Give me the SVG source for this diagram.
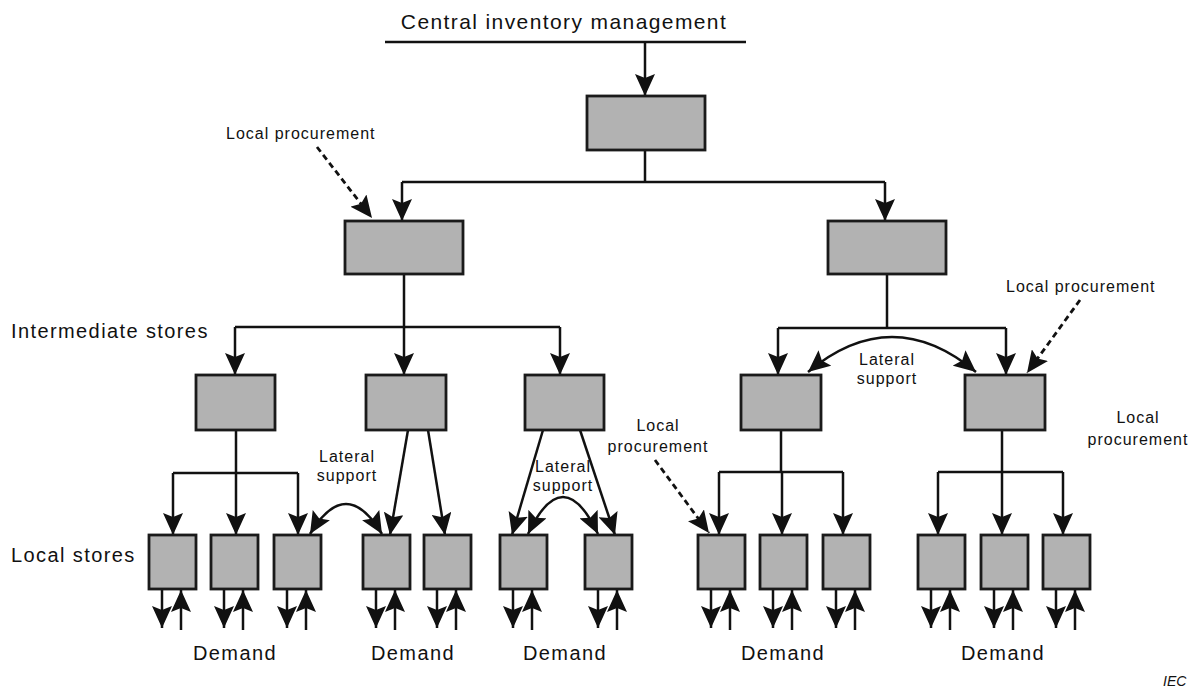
<svg xmlns="http://www.w3.org/2000/svg" width="1196" height="687" viewBox="0 0 1196 687">
  <style>
    .box { fill: #b2b2b2; stroke: #1a1a1a; stroke-width: 2.8; }
    .ln { fill: none; stroke: #111; stroke-width: 2.5; }
    .ar { fill: none; stroke: #111; stroke-width: 2.5; marker-end: url(#ah); }
    .ar2 { fill: none; stroke: #111; stroke-width: 2.5; marker-start: url(#ah); marker-end: url(#ah); }
    .dash { fill: none; stroke: #111; stroke-width: 2.8; stroke-dasharray: 6 4; marker-end: url(#ah); }
    .big { font-family: "Liberation Sans", Arial, sans-serif; font-size: 20px; letter-spacing: 1.4px; fill: #111; }
    .sm { font-family: "Liberation Sans", Arial, sans-serif; font-size: 16px; letter-spacing: 1px; fill: #111; }
    .mid { text-anchor: middle; }
  </style>
  <defs>
    <marker id="ah" viewBox="0 0 22 20" refX="22" refY="10" markerWidth="22" markerHeight="20" markerUnits="userSpaceOnUse" orient="auto-start-reverse">
      <path d="M0,0 L22,10 L0,20 L4,10 Z" fill="#111"/>
    </marker>
  </defs>

  <!-- header -->
  <text class="big mid" x="564" y="29" style="font-size:21px">Central inventory management</text>

  <!-- connectors -->
  <g id="connectors">
    <path class="ln" d="M385,42 H746"/>
    <path class="ar" d="M645,42 V96"/>
    <path class="ln" d="M645,150 V182 M402,182 H885"/>
    <path class="ar" d="M402,182 V221"/>
    <path class="ar" d="M885,182 V221"/>

    <!-- left regional store to intermediate stores -->
    <path class="ln" d="M404,274 V327 M235,327 H560"/>
    <path class="ar" d="M235,327 V375"/>
    <path class="ar" d="M404,327 V375"/>
    <path class="ar" d="M560,327 V375"/>

    <!-- right regional store to intermediate stores -->
    <path class="ln" d="M887,274 V328 M778,328 H1006"/>
    <path class="ar" d="M778,328 V375"/>
    <path class="ar" d="M1006,328 V375"/>

    <!-- intermediate 1 -->
    <path class="ln" d="M236,430 V473 M173,473 H298"/>
    <path class="ar" d="M173,473 V535"/>
    <path class="ar" d="M236,473 V535"/>
    <path class="ar" d="M298,473 V535"/>

    <!-- intermediate 2 -->
    <path class="ar" d="M408,430 L390,535"/>
    <path class="ar" d="M428,430 L445,535"/>

    <!-- intermediate 3 -->
    <path class="ar" d="M543,430 L512,535"/>
    <path class="ar" d="M580,430 L615,535"/>

    <!-- intermediate 4 -->
    <path class="ln" d="M781,430 V472 M719,472 H843"/>
    <path class="ar" d="M719,472 V535"/>
    <path class="ar" d="M782,472 V535"/>
    <path class="ar" d="M843,472 V535"/>

    <!-- intermediate 5 -->
    <path class="ln" d="M1002,430 V472 M938,472 H1063"/>
    <path class="ar" d="M938,472 V535"/>
    <path class="ar" d="M1002,472 V535"/>
    <path class="ar" d="M1063,472 V535"/>

    <!-- lateral support -->
    <path class="ar2" d="M808,372 Q892,302 976,372"/>
    <path class="ar2" d="M310,534 Q346,474 382,534"/>
    <path class="ar2" d="M528,534 Q563,460 598,534"/>

    <!-- local procurement -->
    <path class="dash" d="M317,147 L372,218"/>
    <path class="dash" d="M1080,300 L1027,373"/>
    <path class="dash" d="M655,460 L709,533"/>

    <!-- demand flows -->
    <g id="demand-arrows">
      <path class="ar" d="M162,589 V628"/><path class="ar" d="M181,630 V590"/>
      <path class="ar" d="M224,589 V628"/><path class="ar" d="M243,630 V590"/>
      <path class="ar" d="M287,589 V628"/><path class="ar" d="M306,630 V590"/>
      <path class="ar" d="M376,589 V628"/><path class="ar" d="M395,630 V590"/>
      <path class="ar" d="M437,589 V628"/><path class="ar" d="M456,630 V590"/>
      <path class="ar" d="M513,589 V628"/><path class="ar" d="M532,630 V590"/>
      <path class="ar" d="M598,589 V628"/><path class="ar" d="M617,630 V590"/>
      <path class="ar" d="M711,589 V628"/><path class="ar" d="M730,630 V590"/>
      <path class="ar" d="M773,589 V628"/><path class="ar" d="M792,630 V590"/>
      <path class="ar" d="M836,589 V628"/><path class="ar" d="M855,630 V590"/>
      <path class="ar" d="M931,589 V628"/><path class="ar" d="M950,630 V590"/>
      <path class="ar" d="M994,589 V628"/><path class="ar" d="M1013,630 V590"/>
      <path class="ar" d="M1056,589 V628"/><path class="ar" d="M1075,630 V590"/>
    </g>
  </g>

  <!-- central store -->
  <g id="central"><rect class="box" x="587" y="96" width="118" height="54"/></g>

  <!-- regional stores -->
  <g id="regional-left"><rect class="box" x="345" y="221" width="118" height="53"/></g>
  <g id="regional-right"><rect class="box" x="828" y="221" width="118" height="53"/></g>

  <!-- intermediate stores -->
  <g id="inter-1"><rect class="box" x="196" y="375" width="79" height="55"/></g>
  <g id="inter-2"><rect class="box" x="366" y="375" width="80" height="55"/></g>
  <g id="inter-3"><rect class="box" x="525" y="375" width="79" height="55"/></g>
  <g id="inter-4"><rect class="box" x="741" y="375" width="80" height="55"/></g>
  <g id="inter-5"><rect class="box" x="965" y="375" width="80" height="55"/></g>

  <!-- local stores -->
  <g id="local-1"><rect class="box" x="149" y="535" width="47" height="54"/></g>
  <g id="local-2"><rect class="box" x="211" y="535" width="47" height="54"/></g>
  <g id="local-3"><rect class="box" x="274" y="535" width="47" height="54"/></g>
  <g id="local-4"><rect class="box" x="363" y="535" width="47" height="54"/></g>
  <g id="local-5"><rect class="box" x="424" y="535" width="47" height="54"/></g>
  <g id="local-6"><rect class="box" x="500" y="535" width="47" height="54"/></g>
  <g id="local-7"><rect class="box" x="585" y="535" width="47" height="54"/></g>
  <g id="local-8"><rect class="box" x="698" y="535" width="47" height="54"/></g>
  <g id="local-9"><rect class="box" x="760" y="535" width="47" height="54"/></g>
  <g id="local-10"><rect class="box" x="823" y="535" width="47" height="54"/></g>
  <g id="local-11"><rect class="box" x="918" y="535" width="47" height="54"/></g>
  <g id="local-12"><rect class="box" x="981" y="535" width="47" height="54"/></g>
  <g id="local-13"><rect class="box" x="1043" y="535" width="47" height="54"/></g>

  <!-- labels -->
  <g id="labels">
    <text class="big" x="11" y="338">Intermediate stores</text>
    <text class="big" x="11" y="562">Local stores</text>

    <text class="sm" x="226" y="139">Local procurement</text>
    <text class="sm" x="1006" y="292">Local procurement</text>
    <text class="sm mid" x="658" y="431">Local</text>
    <text class="sm mid" x="658" y="452">procurement</text>
    <text class="sm mid" x="1138" y="423">Local</text>
    <text class="sm mid" x="1138" y="445">procurement</text>

    <text class="sm mid" x="887" y="365">Lateral</text>
    <text class="sm mid" x="887" y="384">support</text>
    <text class="sm mid" x="347" y="462">Lateral</text>
    <text class="sm mid" x="347" y="481">support</text>
    <text class="sm mid" x="563" y="472">Lateral</text>
    <text class="sm mid" x="563" y="491">support</text>

    <text class="big mid" x="235" y="660">Demand</text>
    <text class="big mid" x="413" y="660">Demand</text>
    <text class="big mid" x="565" y="660">Demand</text>
    <text class="big mid" x="783" y="660">Demand</text>
    <text class="big mid" x="1003" y="660">Demand</text>

    <text x="1163" y="686" style="font-family:'Liberation Sans', Arial, sans-serif; font-size:14px; font-style:italic; fill:#111">IEC</text>
  </g>
</svg>
